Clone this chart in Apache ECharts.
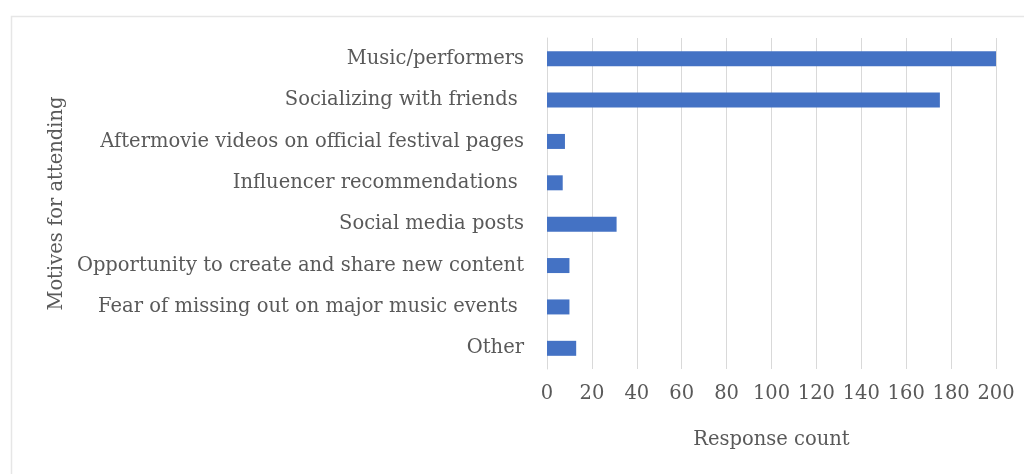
<!DOCTYPE html>
<html>
<head>
<meta charset="utf-8">
<script src="https://cdn.jsdelivr.net/npm/echarts@6/dist/echarts.min.js"></script>
<style>html,body{margin:0;padding:0;background:#fff}#c{width:1024px;height:474px}</style>
</head>
<body>
<div id="c"></div>
<script>
const categories = [
  "Music/performers",
  "Socializing with friends ",
  "Aftermovie videos on official festival pages",
  "Influencer recommendations ",
  "Social media posts",
  "Opportunity to create and share new content",
  "Fear of missing out on major music events ",
  "Other"
];
const responseCounts = [200, 175, 8, 7, 31, 10, 10, 13];
const xTicks = { min: 0, max: 200, interval: 20 };
const xAxisTitle = "Response count";
const yAxisTitle = "Motives for attending";

const FONT = "DejaVu Serif";
const FS = 19.5;
const TXT = "#595959";
const chart = echarts.init(document.getElementById('c'), null, { renderer: 'canvas' });
chart.setOption({
  backgroundColor: '#fff',
  animation: false,
  graphic: [{
    type: 'rect', left: 9, top: 14,
    shape: { width: 1100, height: 500 },
    style: { fill: 'none', stroke: '#e6e6e6', lineWidth: 1.5 },
    silent: true
  }],
  grid: { left: 547, right: 28, top: 38, bottom: 105 },
  xAxis: {
    type: 'value', min: xTicks.min, max: xTicks.max, interval: xTicks.interval,
    name: xAxisTitle, nameLocation: 'middle', nameGap: 61,
    nameTextStyle: { fontFamily: FONT, fontSize: FS, color: TXT },
    axisLine: { show: false }, axisTick: { show: false },
    axisLabel: { fontFamily: FONT, fontSize: FS, color: TXT, margin: 15 },
    splitLine: { show: true, lineStyle: { color: '#d9d9d9', width: 1 } }
  },
  yAxis: {
    type: 'category', data: categories, inverse: true,
    name: yAxisTitle, nameLocation: 'middle', nameGap: 480,
    nameTextStyle: { fontFamily: FONT, fontSize: FS, color: TXT },
    axisLine: { show: true, lineStyle: { color: '#d9d9d9' } },
    axisTick: { show: false },
    axisLabel: { fontFamily: FONT, fontSize: FS, color: TXT, margin: 23 }
  },
  series: [{
    type: 'bar', data: responseCounts, barWidth: 15,
    itemStyle: { color: '#4472C4' }
  }]
});
</script>
</body>
</html>
